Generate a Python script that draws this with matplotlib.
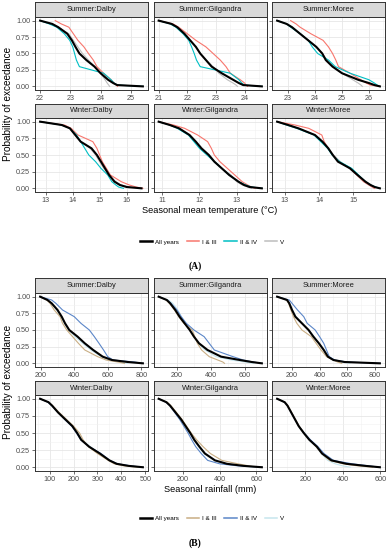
import matplotlib
matplotlib.use('Agg')
import matplotlib.pyplot as plt
from matplotlib.lines import Line2D
from matplotlib.ticker import MultipleLocator

plt.rcParams['font.family'] = ['Liberation Sans', 'DejaVu Sans']

# exceedance probability levels shared by all curves
probs = [1.0, 0.95, 0.9, 0.8, 0.7, 0.6, 0.5, 0.4, 0.3, 0.2, 0.1, 0.05, 0.02, 0.0]
groups = ['All years', 'I & III', 'II & IV', 'V']
facet_titles = ['Summer:Dalby', 'Summer:Gilgandra', 'Summer:Moree',
                'Winter:Dalby', 'Winter:Gilgandra', 'Winter:Moree']

# ---------------- (A) seasonal mean temperature (value at each probability level) ----------
t_sd_all = [22.0, 22.4, 22.6, 22.9, 23.05, 23.17, 23.3, 23.53, 23.8, 24.0, 24.25, 24.42, 24.55, 25.4]
t_sd_13 = [22.5, 22.7, 22.95, 23.1, 23.25, 23.45, 23.6, 23.76, 23.88, 24.1, 24.35, 24.45, 24.52, 24.56]
t_sd_24 = [22.0, 22.3, 22.55, 22.8, 22.98, 23.08, 23.14, 23.2, 23.3, 24.1, 24.35, 24.45, 24.55, 25.4]
t_sd_5 = [22.0, 22.35, 22.6, 22.95, 23.1, 23.25, 23.4, 23.6, 23.8, 24.0, 24.15, 24.22, 24.27, 24.3]

t_sg_all = [21.0, 21.45, 21.65, 21.9, 22.1, 22.3, 22.45, 22.65, 22.85, 23.2, 23.6, 23.8, 23.95, 24.6]
t_sg_13 = [21.0, 21.5, 21.7, 22.0, 22.3, 22.65, 22.9, 23.15, 23.35, 23.5, 23.85, 24.0, 24.05, 24.1]
t_sg_24 = [21.0, 21.4, 21.6, 21.85, 22.05, 22.15, 22.24, 22.32, 22.45, 23.5, 23.8, 23.9, 24.0, 24.6]
t_sg_5 = [21.0, 21.45, 21.65, 21.9, 22.1, 22.3, 22.45, 22.65, 22.9, 23.1, 23.4, 23.6, 23.7, 23.75]

t_sm_all = [22.6, 22.95, 23.15, 23.45, 23.75, 24.05, 24.27, 24.4, 24.65, 25.0, 25.6, 26.0, 26.2, 26.4]
t_sm_13 = [23.1, 23.3, 23.45, 23.85, 24.3, 24.5, 24.65, 24.77, 24.87, 25.3, 25.7, 25.9, 26.05, 26.4]
t_sm_24 = [22.6, 22.95, 23.1, 23.45, 23.75, 23.9, 24.1, 24.5, 24.75, 25.3, 26.0, 26.2, 26.3, 26.4]
t_sm_5 = [22.6, 22.95, 23.15, 23.45, 23.75, 24.05, 24.27, 24.45, 24.7, 25.0, 25.4, 25.6, 25.7, 25.75]

t_wd_all = [12.8, 13.6, 13.9, 14.1, 14.3, 14.7, 14.9, 15.05, 15.2, 15.35, 15.55, 15.75, 16.0, 16.55]
t_wd_13 = [12.8, 13.7, 13.95, 14.2, 14.75, 14.9, 15.0, 15.1, 15.25, 15.4, 15.8, 16.1, 16.35, 16.6]
t_wd_24 = [12.8, 13.6, 13.9, 14.15, 14.3, 14.45, 14.6, 14.85, 15.05, 15.3, 15.45, 15.6, 15.7, 15.88]
t_wd_5 = [12.8, 13.6, 13.9, 14.1, 14.3, 14.65, 14.85, 15.0, 15.15, 15.35, 15.6, 15.8, 16.1, 16.5]

t_wg_all = [10.9, 11.2, 11.45, 11.73, 11.9, 12.05, 12.25, 12.4, 12.6, 12.8, 13.05, 13.2, 13.35, 13.68]
t_wg_13 = [10.9, 11.3, 11.6, 11.95, 12.22, 12.32, 12.4, 12.55, 12.75, 12.95, 13.15, 13.3, 13.4, 13.5]
t_wg_24 = [10.9, 11.2, 11.4, 11.7, 11.85, 12.0, 12.2, 12.4, 12.6, 12.8, 13.05, 13.25, 13.4, 13.68]
t_wg_5 = [10.9, 11.2, 11.45, 11.75, 11.92, 12.08, 12.27, 12.42, 12.6, 12.85, 13.0, 13.15, 13.3, 13.4]

t_wm_all = [12.78, 13.1, 13.4, 13.88, 14.1, 14.27, 14.4, 14.55, 14.9, 15.12, 15.35, 15.5, 15.62, 15.77]
t_wm_13 = [12.78, 13.3, 13.7, 14.08, 14.15, 14.27, 14.4, 14.58, 14.9, 15.1, 15.3, 15.45, 15.55, 15.62]
t_wm_24 = [12.78, 13.05, 13.35, 13.85, 14.05, 14.25, 14.38, 14.6, 14.95, 15.15, 15.35, 15.5, 15.65, 15.77]
t_wm_5 = [12.78, 13.1, 13.4, 13.88, 14.1, 14.25, 14.42, 14.62, 14.88, 15.1, 15.3, 15.45, 15.55, 15.6]

temp_ticks = [[22, 23, 24, 25], [21, 22, 23, 24], [23, 24, 25, 26],
              [13, 14, 15, 16], [11, 12, 13], [13, 14, 15]]

# ---------------- (B) seasonal rainfall ----------------
r_sd_all = [196, 240, 265, 300, 325, 345, 370, 420, 463, 513, 570, 625, 720, 810]
r_sd_13 = [196, 235, 255, 280, 315, 330, 355, 390, 425, 463, 540, 590, 660, 700]
r_sd_24 = [196, 265, 290, 330, 400, 440, 490, 520, 548, 575, 600, 632, 760, 810]
r_sd_5 = [196, 240, 262, 295, 320, 340, 365, 405, 450, 500, 560, 610, 680, 720]

r_sg_all = [92, 140, 160, 190, 215, 245, 275, 300, 330, 380, 460, 570, 640, 700]
r_sg_13 = [92, 135, 155, 185, 210, 240, 290, 305, 320, 345, 390, 440, 470, 480]
r_sg_24 = [92, 140, 165, 200, 225, 255, 300, 360, 390, 420, 530, 590, 650, 700]
r_sg_5 = [92, 150, 175, 205, 225, 250, 278, 300, 325, 365, 430, 520, 600, 650]

r_sm_all = [92, 164, 180, 200, 224, 272, 320, 355, 395, 430, 460, 500, 580, 837]
r_sm_13 = [92, 160, 175, 192, 210, 235, 272, 340, 375, 410, 450, 500, 530, 560]
r_sm_24 = [92, 180, 200, 240, 285, 310, 368, 400, 430, 450, 470, 510, 600, 837]
r_sm_5 = [92, 165, 182, 205, 230, 275, 320, 360, 395, 435, 465, 505, 560, 620]

r_wd_all = [60, 95, 110, 135, 165, 195, 215, 232, 265, 310, 350, 380, 430, 490]
r_wd_13 = [60, 95, 112, 140, 170, 200, 225, 240, 262, 300, 345, 370, 410, 470]
r_wd_24 = [60, 92, 108, 135, 162, 192, 212, 230, 265, 315, 352, 385, 440, 490]
r_wd_5 = [60, 95, 110, 138, 168, 195, 218, 235, 270, 310, 350, 375, 420, 480]

r_wg_all = [68, 110, 130, 160, 190, 215, 240, 262, 290, 320, 375, 440, 530, 630]
r_wg_13 = [68, 115, 135, 165, 195, 220, 245, 275, 310, 350, 412, 500, 560, 600]
r_wg_24 = [68, 108, 128, 155, 182, 205, 228, 248, 270, 300, 335, 400, 500, 630]
r_wg_5 = [68, 112, 132, 162, 190, 215, 238, 260, 285, 315, 370, 430, 520, 600]

r_wm_all = [50, 90, 105, 125, 145, 165, 192, 222, 262, 290, 340, 420, 520, 598]
r_wm_13 = [50, 92, 108, 128, 148, 168, 195, 225, 258, 288, 330, 400, 480, 560]
r_wm_24 = [50, 90, 105, 125, 145, 165, 195, 228, 268, 300, 350, 450, 540, 598]
r_wm_5 = [50, 92, 106, 126, 146, 166, 192, 220, 258, 285, 320, 360, 400, 440]

rain_ticks = [[200, 400, 600, 800], [200, 400, 600], [200, 400, 600, 800],
              [100, 200, 300, 400, 500], [200, 400, 600], [200, 400, 600]]

temp_data = [[t_sd_all, t_sd_13, t_sd_24, t_sd_5], [t_sg_all, t_sg_13, t_sg_24, t_sg_5],
             [t_sm_all, t_sm_13, t_sm_24, t_sm_5], [t_wd_all, t_wd_13, t_wd_24, t_wd_5],
             [t_wg_all, t_wg_13, t_wg_24, t_wg_5], [t_wm_all, t_wm_13, t_wm_24, t_wm_5]]
rain_data = [[r_sd_all, r_sd_13, r_sd_24, r_sd_5], [r_sg_all, r_sg_13, r_sg_24, r_sg_5],
             [r_sm_all, r_sm_13, r_sm_24, r_sm_5], [r_wd_all, r_wd_13, r_wd_24, r_wd_5],
             [r_wg_all, r_wg_13, r_wg_24, r_wg_5], [r_wm_all, r_wm_13, r_wm_24, r_wm_5]]

colors_a = ['black', '#F8766D', '#00BFC4', '#BDBDBD']
colors_b = ['black', '#C9AE84', '#5B86C8', '#C6E6EE']
widths = [1.5, 0.8, 0.8, 0.8]

W, H = 392, 550
fig = plt.figure(figsize=(W / 100, H / 100), dpi=100)


def frect(x0, y0, x1, y1):
    return [x0 / W, 1 - y1 / H, (x1 - x0) / W, (y1 - y0) / H]


col_x = [(35, 148), (153.5, 267), (272, 385)]
BORDER = '#333333'


def draw_panel(data, ticks, colors, rows, xlabel, xlabel_y, legend_y, tag, tag_y, ylab_y):
    for i in range(6):
        r, c = divmod(i, 3)
        sy0, sy1, py1 = rows[r]
        x0, x1 = col_x[c]
        ax = fig.add_axes(frect(x0, sy1, x1, py1))
        allv = [v for s in data[i] for v in s]
        lo, hi = min(allv), max(allv)
        pad = 0.05 * (hi - lo)
        ax.set_xlim(lo - pad, hi + pad)
        ax.set_ylim(-0.055, 1.055)
        ax.grid(True, which='major', color='#E6E6E6', lw=0.6)
        ax.grid(True, which='minor', color='#F1F1F1', lw=0.4)
        ax.set_axisbelow(True)
        ax.set_xticks(ticks[i])
        ax.xaxis.set_minor_locator(MultipleLocator((ticks[i][1] - ticks[i][0]) / 2))
        ax.set_yticks([0, 0.25, 0.5, 0.75, 1.0])
        ax.yaxis.set_minor_locator(MultipleLocator(0.125))
        if c == 0:
            ax.set_yticklabels(['0.00', '0.25', '0.50', '0.75', '1.00'])
        else:
            ax.set_yticklabels([])
        ax.tick_params(which='major', length=2, width=0.5, color=BORDER, labelsize=5.2,
                       labelcolor='#4D4D4D', pad=1.5)
        ax.tick_params(which='minor', length=0)
        for s in ax.spines.values():
            s.set_color(BORDER)
            s.set_linewidth(0.7)
        for k in [3, 1, 2, 0]:
            ax.plot(data[i][k], probs, color=colors[k], lw=widths[k], solid_joinstyle='round')
        sax = fig.add_axes(frect(x0, sy0, x1, sy1))
        sax.set_facecolor('#D9D9D9')
        sax.set_xticks([])
        sax.set_yticks([])
        for s in sax.spines.values():
            s.set_color(BORDER)
            s.set_linewidth(0.7)
        sax.text(0.5, 0.5, facet_titles[i], ha='center', va='center', fontsize=5.4,
                 color='#1A1A1A', transform=sax.transAxes)
    fig.text(210 / W, 1 - xlabel_y / H, xlabel, ha='center', va='center', fontsize=6.6)
    fig.text(8 / W, 1 - ylab_y / H, 'Probability of exceedance', rotation=90,
             ha='center', va='center', fontsize=7.2)
    handles = [Line2D([], [], color=colors[k], lw=widths[k] + 0.3) for k in range(4)]
    fig.legend(handles, groups, loc='center', bbox_to_anchor=(212 / W, 1 - legend_y / H),
               ncol=4, frameon=False, fontsize=4.5, handlelength=2.0, columnspacing=1.2,
               handletextpad=0.5)
    fig.text(195 / W, 1 - tag_y / H, tag, ha='center', va='center', fontsize=7,
             fontweight='bold', family='Liberation Serif')


draw_panel(temp_data, temp_ticks, colors_a,
           [(2, 17, 90), (104, 118, 192)],
           'Seasonal mean temperature (\u00b0C)', 211, 242, '(A)', 266, 104)
draw_panel(rain_data, rain_ticks, colors_b,
           [(278, 293, 367), (381, 395, 471)],
           'Seasonal rainfall (mm)', 490, 518, '(B)', 543, 382)

fig.savefig('out.png', dpi=100, facecolor='white')
